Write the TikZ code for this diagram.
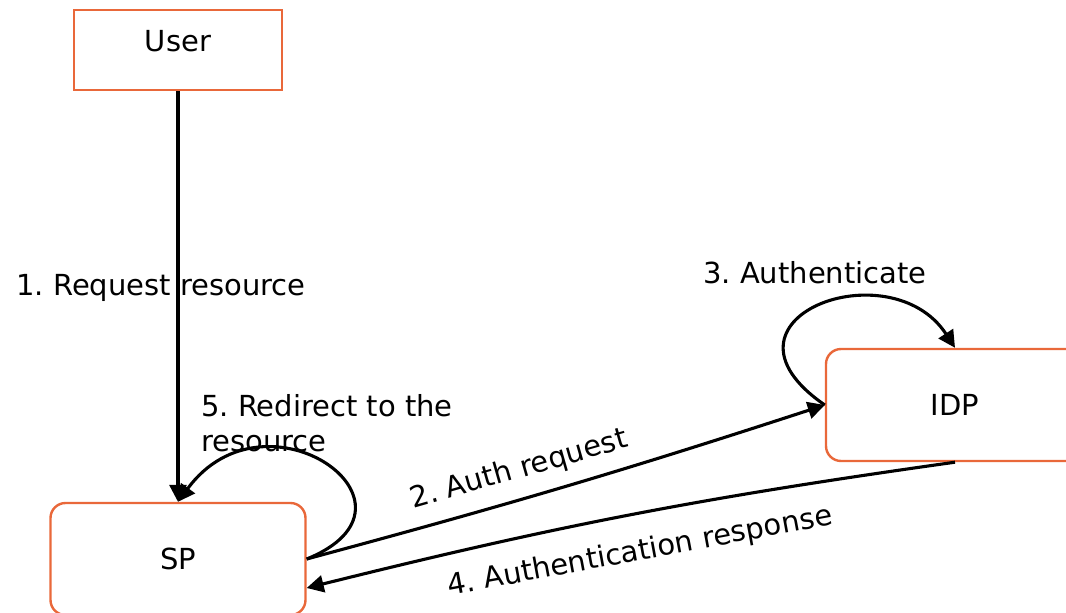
\documentclass[tikz,border=0pt]{standalone}
\usepackage{fontspec}
\setmainfont{DejaVu Sans}
\usetikzlibrary{arrows.meta}
\definecolor{boxorange}{RGB}{233,104,58}
\tikzset{
  entity/.style={draw=boxorange, line width=2.4pt, inner sep=0pt},
  roundentity/.style={entity, rounded corners=15pt},
  flow/.style={line width=3.1pt, draw=black,
    -{Triangle[length=17pt,width=17pt]}},
  caption/.style={inner sep=0pt, text=black}
}
\begin{document}
\frenchspacing
\begin{tikzpicture}[x=1pt, y=-1pt, font=\fontsize{29}{35}\selectfont]
  \useasboundingbox (0,0) rectangle (1066,613);
  \clip (0,0) rectangle (1066,613);

  % parties
  \node[entity, minimum width=208pt, minimum height=80pt,
        label={[yshift=9pt]center:User}] (user) at (178,50) {};
  \node[roundentity, minimum width=255pt, minimum height=112pt] (sp) at (178,559) {SP};
  \node[roundentity, minimum width=258pt, minimum height=112pt] (idp) at (955,405) {IDP};

  % 1. resource request
  \draw[flow] (user.south) -- (sp.north);
  \node[caption, anchor=base] (lreq) at (161,295) {1. Request resource};

  % 2. authentication request
  \draw[flow] (sp.east) to[bend right=1.5] (idp.west);
  \node[caption, rotate=16] (lauth) at (519,470) {2. Auth request};

  % 3. authentication at the IDP
  \draw[flow] (idp.west) .. controls (700,319) and (890,248) .. (idp.north);
  \node[caption, anchor=base] (lidp) at (815,283) {3. Authenticate};

  % 4. authentication response
  \draw[flow] (idp.south) to[bend right=3] ([yshift=-29pt]sp.east);
  \node[caption, rotate=10.5] (lresp) at (640,552) {4. Authentication response};

  % 5. redirect back to the resource
  \draw[flow] (sp.east) .. controls (440,505) and (266,382) .. (sp.north);
  \node[caption, anchor=north west, align=left] (lredir) at (201,394)
    {5. Redirect to the\\resource};
\end{tikzpicture}
\end{document}
